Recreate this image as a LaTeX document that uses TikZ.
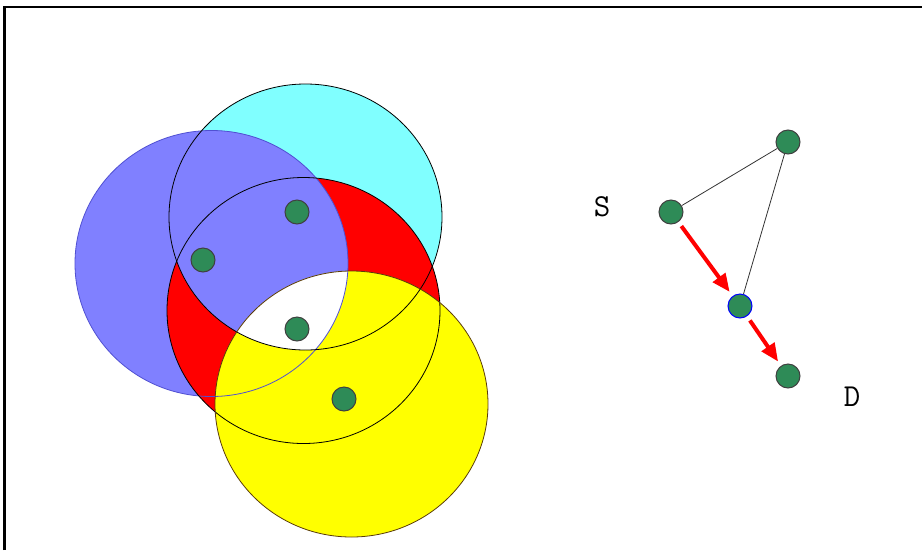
\documentclass[tikz,border=0pt]{standalone}
\usetikzlibrary{arrows.meta}

\definecolor{rangeblue}{RGB}{128,128,255}
\definecolor{rangecyan}{RGB}{128,255,255}
\definecolor{rangeyellow}{RGB}{255,255,0}
\definecolor{rimblue}{RGB}{80,80,210}
\definecolor{rimbrown}{RGB}{90,60,10}
\definecolor{dotgreen}{RGB}{46,139,87}

\def\rx{136.5}
\def\ry{133}

\begin{document}
\begin{tikzpicture}[x=1pt,y=-1pt,semithick]
  \tikzstyle{dot}=[circle,fill=dotgreen,draw=black!75,line width=1pt,minimum size=24pt,inner sep=0pt]
  \tikzstyle{hop}=[draw=red,line width=4pt,-{Triangle[length=18pt,width=15pt]},shorten >=5pt,shorten <=5pt]
  \tikzstyle{link}=[draw=black!80,line width=0.8pt]
  \tikzstyle{rim}=[line width=0.8pt]
  \tikzstyle{lbl}=[font=\ttfamily\fontsize{32}{32}\selectfont]
\useasboundingbox (0,0) rectangle (922,550);
\draw[line width=2.5pt] (4.3,550) -- (4.3,7) -- (922,7);

% transmission ranges
\coordinate (b) at (211.5,263.5);
\coordinate (c) at (305.5,217);
\coordinate (r) at (303.5,310.5);
\coordinate (y) at (351.5,404);
\fill[rangecyan] (c) circle [x radius=\rx,y radius=\ry];
\fill[rangeblue] (b) circle [x radius=\rx,y radius=\ry];
\fill[red] (r) circle [x radius=\rx,y radius=\ry];
\begin{scope}
  \clip (b) circle [x radius=\rx,y radius=\ry];
  \fill[rangeblue] (c) circle [x radius=\rx,y radius=\ry];
\end{scope}
\fill[rangeyellow] (y) circle [x radius=\rx,y radius=\ry];
\begin{scope}
  \clip (b) circle [x radius=\rx,y radius=\ry];
  \clip (c) circle [x radius=\rx,y radius=\ry];
  \fill[white] (y) circle [x radius=\rx,y radius=\ry];
\end{scope}
\draw[rim,rimblue] (b) circle [x radius=\rx,y radius=\ry];
\draw[rim] (c) circle [x radius=\rx,y radius=\ry];
\draw[rim] (r) circle [x radius=\rx,y radius=\ry];
\draw[rim,rimbrown] (y) circle [x radius=\rx,y radius=\ry];

\node[dot] (Pb) at (203,260) {};
\node[dot] (Pc) at (297,212) {};
\node[dot] (Pr) at (297,329) {};
\node[dot] (Py) at (344,399) {};

% route
\node[dot] (T) at (788,142) {};
\node[dot] (S) at (671,212) {};
\node[dot,draw=blue] (M) at (740,306) {};
\node[dot] (D) at (788,376) {};
\node[lbl] (Slab) at (602,207) {S};
\node[lbl] (Dlab) at (852,397) {D};
\path
(S) edge[link] (T)
(T) edge[link] (M)
(S) edge[hop] (M)
(M) edge[hop] (D);
\end{tikzpicture}
\end{document}
